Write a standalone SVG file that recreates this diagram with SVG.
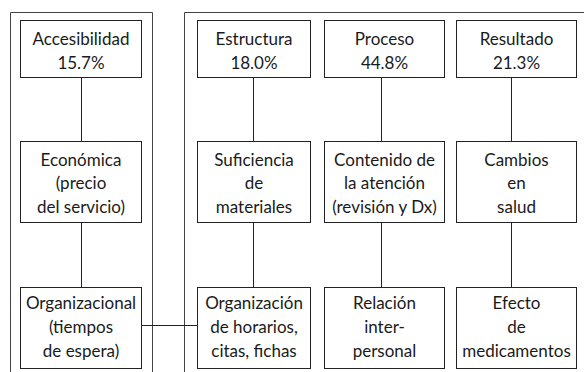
<svg xmlns="http://www.w3.org/2000/svg" width="584" height="372" viewBox="0 0 584 372">
<style>
.frame{fill:none;stroke:#444;stroke-width:1}
.box{fill:#fff;stroke:#222;stroke-width:1}
.ln{stroke:#222;stroke-width:1;fill:none}
text{font-family:Lato,"Open Sans","DejaVu Sans",sans-serif;font-size:17px;fill:#1a1a1a;text-anchor:middle}
</style>
<rect width="584" height="372" fill="#fff"/>
<g id="frames">
<path class="frame" d="M10.5,380 V12.5 H152.5 V380"/>
<path class="frame" d="M184.5,380 V12.5 H590"/>
</g>
<g id="connectors">
<line class="ln" x1="81.5" y1="78" x2="81.5" y2="141"/>
<line class="ln" x1="81.5" y1="222" x2="81.5" y2="287"/>
<line class="ln" x1="253.5" y1="78" x2="253.5" y2="141"/>
<line class="ln" x1="253.5" y1="222" x2="253.5" y2="287"/>
<line class="ln" x1="381.5" y1="78" x2="381.5" y2="141"/>
<line class="ln" x1="381.5" y1="222" x2="381.5" y2="287"/>
<line class="ln" x1="511.5" y1="78" x2="511.5" y2="141"/>
<line class="ln" x1="511.5" y1="222" x2="511.5" y2="287"/>
<line class="ln" x1="141.5" y1="325.5" x2="197.5" y2="325.5"/>
</g>
<g id="accesibilidad"><rect class="box" x="20.5" y="20.5" width="121" height="57"/><text x="81" y="44.5">Accesibilidad</text><text x="81" y="68.5">15.7%</text></g>
<g id="economica"><rect class="box" x="20.5" y="141.5" width="121" height="81"/><text x="81" y="165.5">Económica</text><text x="81" y="189">(precio</text><text x="81" y="212.5">del servicio)</text></g>
<g id="organizacional"><rect class="box" x="20.5" y="287.5" width="121" height="81"/><text x="81" y="308.5">Organizacional</text><text x="81" y="332.5">(tiempos</text><text x="81" y="356.5">de espera)</text></g>
<g id="estructura"><rect class="box" x="197.5" y="20.5" width="113" height="57"/><text x="254" y="44.5">Estructura</text><text x="254" y="68.5">18.0%</text></g>
<g id="suficiencia"><rect class="box" x="197.5" y="141.5" width="113" height="81"/><text x="254" y="165.5">Suficiencia</text><text x="254" y="189">de</text><text x="254" y="212.5">materiales</text></g>
<g id="organizacion"><rect class="box" x="197.5" y="287.5" width="113" height="81"/><text x="254" y="308.5">Organización</text><text x="254" y="332.5">de horarios,</text><text x="254" y="356.5">citas, fichas</text></g>
<g id="proceso"><rect class="box" x="324.5" y="20.5" width="120" height="57"/><text x="384.5" y="44.5">Proceso</text><text x="384.5" y="68.5">44.8%</text></g>
<g id="contenido"><rect class="box" x="324.5" y="141.5" width="120" height="81"/><text x="384.5" y="165.5">Contenido de</text><text x="384.5" y="189">la atención</text><text x="384.5" y="212.5">(revisión y Dx)</text></g>
<g id="relacion"><rect class="box" x="324.5" y="287.5" width="120" height="81"/><text x="384.5" y="308.5">Relación</text><text x="384.5" y="332.5">inter-</text><text x="384.5" y="356.5">personal</text></g>
<g id="resultado"><rect class="box" x="456.5" y="20.5" width="120" height="57"/><text x="516.5" y="44.5">Resultado</text><text x="516.5" y="68.5">21.3%</text></g>
<g id="cambios"><rect class="box" x="456.5" y="141.5" width="120" height="81"/><text x="516.5" y="165.5">Cambios</text><text x="516.5" y="189">en</text><text x="516.5" y="212.5">salud</text></g>
<g id="efecto"><rect class="box" x="456.5" y="287.5" width="120" height="81"/><text x="516.5" y="308.5">Efecto</text><text x="516.5" y="332.5">de</text><text x="516.5" y="356.5">medicamentos</text></g>
</svg>
